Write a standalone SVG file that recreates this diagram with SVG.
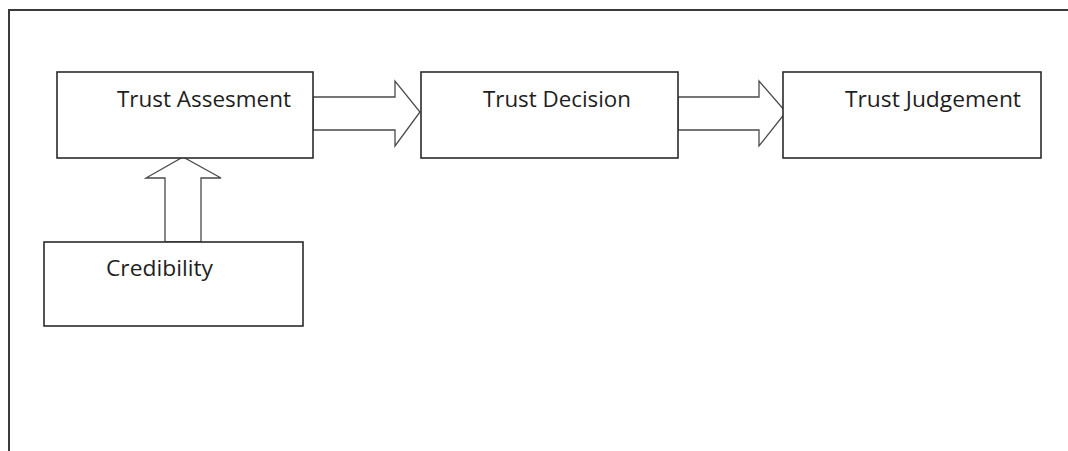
<svg xmlns="http://www.w3.org/2000/svg" width="1068" height="451" viewBox="0 0 1068 451">
  <style>
    .frame { fill: none; stroke: #3a3a3a; stroke-width: 2; }
    .box { fill: #ffffff; stroke: #2b2b2b; stroke-width: 1.6; }
    .block-arrow { fill: #ffffff; stroke: #4a4a4a; stroke-width: 1.3; stroke-linejoin: miter; }
    .label { font-family: "Open Sans", "Liberation Sans", sans-serif; font-size: 21px; fill: #1e1e1e; }
  </style>
  <rect width="1068" height="451" fill="#ffffff"/>
  <!-- outer page frame, running off the right and bottom edges -->
  <polyline class="frame" points="9,460 9,10 1080,10"/>

  <g id="connectors">
    <!-- Trust Assesment -> Trust Decision -->
    <polygon class="block-arrow" points="313,97 395,97 395,81 420,112 395,146 395,130 313,130"/>
    <!-- Trust Decision -> Trust Judgement -->
    <polygon class="block-arrow" points="678,97 759,97 759,81 786,112 759,146 759,130 678,130"/>
    <!-- Credibility -> Trust Assesment -->
    <polygon class="block-arrow" points="165,242 165,178 146,178 183,157 221,178 201,178 201,242"/>
  </g>

  <g id="trust-assesment">
    <rect class="box" x="57" y="72" width="256" height="86"/>
    <text class="label" x="117" y="107" textLength="174" lengthAdjust="spacingAndGlyphs">Trust Assesment</text>
  </g>
  <g id="trust-decision">
    <rect class="box" x="421" y="72" width="257" height="86"/>
    <text class="label" x="483" y="107" textLength="148" lengthAdjust="spacingAndGlyphs">Trust Decision</text>
  </g>
  <g id="trust-judgement">
    <rect class="box" x="783" y="72" width="258" height="86"/>
    <text class="label" x="845" y="107" textLength="176" lengthAdjust="spacingAndGlyphs">Trust Judgement</text>
  </g>
  <g id="credibility">
    <rect class="box" x="44" y="242" width="259" height="84"/>
    <text class="label" x="106" y="276" textLength="107" lengthAdjust="spacingAndGlyphs">Credibility</text>
  </g>
</svg>
